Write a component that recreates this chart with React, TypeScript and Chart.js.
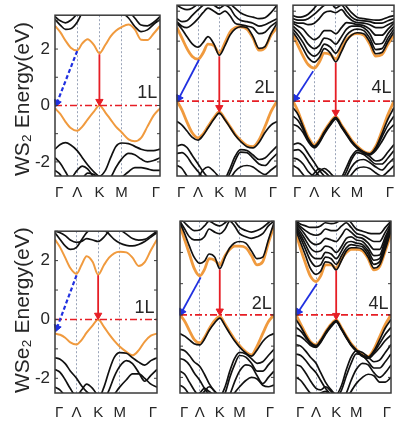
import React, { useEffect, useRef } from "react";
import { Chart, registerables } from "chart.js";

Chart.register(...registerables);
Chart.defaults.font.family = '"Liberation Sans", Arial, sans-serif';

// ---- axes ----
const KPTS = [0, 0.05, 0.1, 0.15, 0.211, 0.26, 0.31, 0.37, 0.423, 0.48, 0.53, 0.58, 0.634, 0.7, 0.76, 0.82, 0.88, 0.94, 1.0];
const XTICKS = [0, 0.211, 0.423, 0.634, 1];
const XLABELS = ["Γ", "Λ", "K", "M", "Γ"];
const YTICKS = [-2, 0, 2];
const ROW_TITLES = ["WS₂ Energy(eV)", "WSe₂ Energy(eV)"];
const LAYER_LABELS = ["1L", "2L", "4L"];
const ROW_YMIN = [-2.5, -2.5];
const ROW_YMAX = [3.2, 3.0];

// ---- WS2 1L ----
const WS2_1L_CB = [2.82, 2.6, 2.3, 2.05, 1.95, 2.2, 2.35, 2.15, 1.85, 2.15, 2.45, 2.65, 2.78, 2.87, 2.7, 2.33, 2.32, 2.55, 2.82];
const WS2_1L_C2 = [3.05, 2.85, 2.7, 2.72, 2.95, 3.3, 3.5, 3.5, 3.5, 3.5, 3.5, 3.4, 3.3, 3.1, 2.8, 2.62, 2.68, 2.88, 3.05];
const WS2_1L_C3 = [3.15, 3.0, 2.93, 3.02, 3.25, 3.5, 3.6, 3.6, 3.6, 3.6, 3.6, 3.6, 3.5, 3.35, 3.1, 2.85, 2.82, 2.95, 3.15];
const WS2_1L_VB = [-0.1, -0.3, -0.58, -0.8, -0.9, -0.75, -0.5, -0.22, 0.0, -0.25, -0.5, -0.75, -0.95, -1.2, -1.27, -1.15, -0.75, -0.35, -0.1];
const WS2_1L_V2 = [-1.55, -1.38, -1.32, -1.4, -1.6, -1.85, -2.1, -2.35, -2.5, -2.3, -1.85, -1.45, -1.33, -1.35, -1.45, -1.55, -1.6, -1.6, -1.55];
const WS2_1L_V3 = [-1.85, -2.05, -2.35, -2.65, -2.75, -2.6, -2.4, -2.45, -2.6, -2.7, -2.55, -2.2, -1.9, -1.7, -1.75, -1.9, -2.0, -1.95, -1.85];
const WS2_1L_V4 = [-2.3, -2.45, -2.7, -2.6, -2.3, -2.15, -2.25, -2.55, -2.8, -2.9, -2.85, -2.7, -2.55, -2.35, -2.2, -2.2, -2.25, -2.3, -2.3];
const WS2_1L_INDIRECT = [[0.211, 1.93], [0.02, 0.1]];
const WS2_1L_DIRECT = [[0.423, 1.82], [0.423, 0.14]];

// ---- WS2 2L ----
const WS2_2L_CB = [2.45, 2.1, 1.75, 1.5, 1.4, 1.6, 1.9, 1.85, 1.6, 1.95, 2.3, 2.45, 2.48, 2.4, 2.1, 1.7, 1.78, 2.2, 2.45];
const WS2_2L_C1B = [2.6, 2.4, 2.15, 1.92, 1.8, 1.95, 2.15, 1.9, 1.53, 1.85, 2.2, 2.4, 2.48, 2.45, 2.15, 1.76, 1.82, 2.25, 2.6];
const WS2_2L_C2 = [2.65, 2.5, 2.45, 2.55, 2.75, 2.95, 3.1, 3.0, 2.9, 3.0, 2.85, 2.6, 2.55, 2.5, 2.45, 2.25, 2.3, 2.5, 2.65];
const WS2_2L_C3 = [2.75, 2.65, 2.68, 2.85, 3.05, 3.2, 3.3, 3.2, 3.1, 3.2, 3.1, 2.85, 2.7, 2.65, 2.6, 2.5, 2.55, 2.65, 2.75];
const WS2_2L_C4 = [3.2, 3.1, 3.05, 3.1, 3.25, 3.4, 3.5, 3.4, 3.3, 3.35, 3.25, 3.1, 2.95, 2.85, 2.8, 2.75, 2.78, 2.95, 3.2];
const WS2_2L_VB = [0, -0.3, -0.7, -1.05, -1.23, -1.1, -0.85, -0.55, -0.36, -0.6, -0.85, -1.1, -1.3, -1.48, -1.52, -1.3, -0.85, -0.35, 0];
const WS2_2L_V2 = [-0.68, -0.8, -1.0, -1.2, -1.3, -1.15, -0.9, -0.6, -0.4, -0.63, -0.88, -1.13, -1.34, -1.52, -1.56, -1.38, -1.05, -0.8, -0.68];
const WS2_2L_V3 = [-1.5, -1.45, -1.55, -1.8, -2.1, -2.35, -2.55, -2.7, -2.75, -2.6, -2.25, -1.85, -1.62, -1.65, -1.8, -1.95, -1.9, -1.7, -1.5];
const WS2_2L_V4 = [-1.75, -1.72, -1.85, -2.1, -2.35, -2.55, -2.7, -2.8, -2.85, -2.7, -2.4, -2.0, -1.7, -1.72, -1.9, -2.1, -2.15, -1.95, -1.75];
const WS2_2L_V5 = [-2.15, -2.25, -2.5, -2.7, -2.55, -2.3, -2.2, -2.35, -2.55, -2.75, -2.6, -2.35, -2.2, -2.15, -2.2, -2.35, -2.45, -2.3, -2.15];
const WS2_2L_INDIRECT = [[0.22, 1.38], [0.02, 0.1]];
const WS2_2L_DIRECT = [[0.423, 1.5], [0.423, -0.22]];

// ---- WS2 4L ----
const WS2_4L_CB = [2.2, 1.85, 1.5, 1.22, 1.1, 1.3, 1.6, 1.55, 1.4, 1.75, 2.05, 2.2, 2.25, 2.2, 1.9, 1.5, 1.55, 1.9, 2.2];
const WS2_4L_C1B = [2.3, 2.05, 1.75, 1.45, 1.3, 1.45, 1.75, 1.6, 1.31, 1.65, 2.0, 2.2, 2.28, 2.25, 1.98, 1.58, 1.62, 1.98, 2.3];
const WS2_4L_C2 = [2.4, 2.2, 1.95, 1.65, 1.5, 1.62, 1.9, 1.8, 1.6, 1.9, 2.2, 2.35, 2.4, 2.35, 2.1, 1.72, 1.75, 2.1, 2.4];
const WS2_4L_C3 = [2.5, 2.35, 2.15, 1.9, 1.75, 1.85, 2.1, 2.05, 1.9, 2.15, 2.4, 2.5, 2.5, 2.45, 2.25, 1.9, 1.92, 2.25, 2.5];
const WS2_4L_C4 = [2.6, 2.5, 2.4, 2.2, 2.05, 2.15, 2.35, 2.35, 2.25, 2.45, 2.62, 2.6, 2.55, 2.52, 2.4, 2.2, 2.2, 2.4, 2.6];
const WS2_4L_C5 = [2.65, 2.6, 2.6, 2.55, 2.6, 2.75, 2.95, 3.0, 2.95, 3.05, 2.85, 2.7, 2.62, 2.6, 2.55, 2.45, 2.45, 2.55, 2.65];
const WS2_4L_C6 = [2.75, 2.7, 2.7, 2.75, 2.9, 3.05, 3.2, 3.3, 3.1, 3.2, 3.0, 2.8, 2.7, 2.68, 2.65, 2.6, 2.6, 2.68, 2.75];
const WS2_4L_C7 = [2.85, 2.8, 2.82, 2.9, 3.1, 3.3, 3.4, 3.5, 3.3, 3.35, 3.15, 2.95, 2.8, 2.75, 2.72, 2.7, 2.72, 2.8, 2.85];
const WS2_4L_VB = [0, -0.35, -0.8, -1.2, -1.47, -1.3, -1.0, -0.7, -0.52, -0.8, -1.05, -1.3, -1.5, -1.68, -1.74, -1.5, -1.0, -0.45, 0];
const WS2_4L_V2 = [-0.22, -0.45, -0.85, -1.25, -1.5, -1.33, -1.03, -0.73, -0.54, -0.82, -1.08, -1.33, -1.53, -1.7, -1.76, -1.55, -1.1, -0.6, -0.22];
const WS2_4L_V3 = [-0.5, -0.65, -0.95, -1.3, -1.53, -1.36, -1.06, -0.76, -0.57, -0.85, -1.1, -1.35, -1.55, -1.72, -1.78, -1.6, -1.2, -0.8, -0.5];
const WS2_4L_V4 = [-0.78, -0.85, -1.05, -1.35, -1.56, -1.4, -1.1, -0.8, -0.6, -0.88, -1.13, -1.38, -1.57, -1.74, -1.8, -1.65, -1.35, -1.0, -0.78];
const WS2_4L_V5 = [-1.45, -1.4, -1.5, -1.75, -2.05, -2.3, -2.5, -2.65, -2.7, -2.55, -2.2, -1.85, -1.65, -1.7, -1.85, -2.0, -1.95, -1.7, -1.45];
const WS2_4L_V6 = [-1.65, -1.62, -1.75, -2.0, -2.3, -2.5, -2.65, -2.75, -2.8, -2.65, -2.35, -1.95, -1.72, -1.78, -1.95, -2.1, -2.1, -1.9, -1.65];
const WS2_4L_V7 = [-1.9, -1.95, -2.1, -2.35, -2.5, -2.35, -2.25, -2.4, -2.6, -2.75, -2.5, -2.2, -2.0, -1.95, -2.05, -2.2, -2.3, -2.1, -1.9];
const WS2_4L_V8 = [-2.15, -2.25, -2.45, -2.6, -2.4, -2.25, -2.35, -2.55, -2.75, -2.85, -2.7, -2.45, -2.25, -2.2, -2.25, -2.4, -2.5, -2.35, -2.15];
const WS2_4L_INDIRECT = [[0.2, 1.0], [0.028, 0.1]];
const WS2_4L_DIRECT = [[0.423, 1.28], [0.423, -0.38]];

// ---- WSe2 1L ----
const WSE2_1L_CB = [2.72, 2.45, 2.1, 1.75, 1.55, 1.85, 2.15, 1.95, 1.52, 1.85, 2.1, 2.25, 2.3, 2.28, 2.1, 1.82, 1.95, 2.35, 2.72];
const WSE2_1L_C2 = [2.95, 2.72, 2.5, 2.38, 2.45, 2.7, 2.95, 3.1, 3.1, 3.05, 2.9, 2.72, 2.6, 2.52, 2.5, 2.55, 2.65, 2.8, 2.95];
const WSE2_1L_C3 = [3.0, 2.95, 2.85, 2.7, 2.62, 2.65, 2.75, 2.7, 2.65, 2.8, 3.0, 3.1, 3.05, 2.9, 2.75, 2.7, 2.72, 2.85, 3.0];
const WSE2_1L_VB = [-0.48, -0.52, -0.62, -0.78, -0.85, -0.7, -0.45, -0.2, 0.0, -0.25, -0.5, -0.72, -0.92, -1.1, -1.22, -1.05, -0.75, -0.55, -0.48];
const WSE2_1L_V2 = [-1.3, -1.35, -1.5, -1.75, -2.0, -2.25, -2.45, -2.6, -2.7, -2.3, -1.75, -1.3, -1.13, -1.15, -1.3, -1.45, -1.55, -1.4, -1.3];
const WSE2_1L_V3 = [-1.7, -1.8, -2.05, -2.35, -2.6, -2.4, -2.2, -2.35, -2.6, -2.7, -2.4, -1.95, -1.6, -1.4, -1.5, -1.8, -2.1, -1.9, -1.7];
const WSE2_1L_V4 = [-2.3, -2.4, -2.6, -2.7, -2.6, -2.5, -2.6, -2.75, -2.8, -2.85, -2.75, -2.55, -2.3, -2.05, -1.85, -1.85, -2.0, -2.2, -2.3];
const WSE2_1L_INDIRECT = [[0.211, 1.5], [0.02, -0.28]];
const WSE2_1L_DIRECT = [[0.423, 1.5], [0.423, 0.14]];

// ---- WSe2 2L ----
const WSE2_2L_CB = [2.85, 2.4, 1.95, 1.5, 1.25, 1.45, 1.8, 1.75, 1.6, 1.9, 2.1, 2.2, 2.2, 2.15, 1.9, 1.6, 1.7, 2.3, 2.85];
const WSE2_2L_C1B = [2.95, 2.6, 2.2, 1.85, 1.65, 1.72, 1.95, 1.85, 1.48, 1.85, 2.15, 2.3, 2.35, 2.3, 2.05, 1.8, 1.85, 2.4, 2.95];
const WSE2_2L_C2 = [3.0, 2.75, 2.5, 2.4, 2.4, 2.5, 2.75, 2.65, 2.6, 2.75, 3.0, 2.85, 2.6, 2.5, 2.45, 2.5, 2.6, 2.85, 3.0];
const WSE2_2L_C3 = [3.1, 2.95, 2.8, 2.7, 2.72, 2.85, 3.0, 2.9, 2.85, 2.95, 3.1, 3.0, 2.8, 2.7, 2.65, 2.7, 2.8, 2.95, 3.1];
const WSE2_2L_VB = [0, -0.2, -0.5, -0.78, -0.9, -0.72, -0.45, -0.18, -0.05, -0.3, -0.55, -0.78, -0.98, -1.18, -1.28, -1.0, -0.6, -0.22, 0];
const WSE2_2L_V2 = [-0.6, -0.68, -0.8, -0.92, -0.96, -0.78, -0.5, -0.25, -0.1, -0.35, -0.6, -0.83, -1.03, -1.22, -1.32, -1.12, -0.85, -0.68, -0.6];
const WSE2_2L_V3 = [-1.1, -1.15, -1.3, -1.5, -1.65, -1.9, -2.2, -2.45, -2.6, -2.3, -1.8, -1.4, -1.2, -1.25, -1.4, -1.55, -1.5, -1.3, -1.1];
const WSE2_2L_V4 = [-1.4, -1.45, -1.6, -1.85, -2.1, -2.35, -2.55, -2.7, -2.75, -2.5, -2.0, -1.6, -1.3, -1.35, -1.55, -1.8, -1.8, -1.6, -1.4];
const WSE2_2L_V5 = [-1.8, -1.9, -2.15, -2.4, -2.6, -2.45, -2.3, -2.45, -2.65, -2.75, -2.55, -2.15, -1.8, -1.6, -1.65, -1.95, -2.2, -2.0, -1.8];
const WSE2_2L_V6 = [-2.25, -2.35, -2.55, -2.65, -2.5, -2.35, -2.45, -2.6, -2.8, -2.85, -2.75, -2.5, -2.3, -2.1, -2.0, -2.05, -2.25, -2.3, -2.25];
const WSE2_2L_INDIRECT = [[0.22, 1.2], [0.02, 0.1]];
const WSE2_2L_DIRECT = [[0.423, 1.45], [0.423, 0.12]];

// ---- WSe2 4L ----
const WSE2_4L_CB = [2.6, 2.1, 1.65, 1.25, 1.07, 1.25, 1.6, 1.6, 1.5, 1.8, 2.0, 2.1, 2.1, 2.05, 1.8, 1.44, 1.55, 2.05, 2.6];
const WSE2_4L_C1B = [2.7, 2.3, 1.9, 1.5, 1.3, 1.4, 1.7, 1.65, 1.44, 1.75, 2.05, 2.15, 2.15, 2.1, 1.85, 1.5, 1.6, 2.1, 2.7];
const WSE2_4L_C2 = [2.75, 2.45, 2.1, 1.75, 1.55, 1.6, 1.85, 1.8, 1.62, 1.9, 2.15, 2.25, 2.22, 2.18, 1.95, 1.62, 1.7, 2.2, 2.75];
const WSE2_4L_C3 = [2.8, 2.55, 2.25, 1.95, 1.8, 1.8, 2.0, 1.95, 1.8, 2.05, 2.3, 2.35, 2.3, 2.25, 2.05, 1.75, 1.8, 2.3, 2.8];
const WSE2_4L_C4 = [2.85, 2.65, 2.4, 2.15, 2.02, 2.05, 2.2, 2.15, 2.0, 2.2, 2.45, 2.5, 2.4, 2.35, 2.15, 1.9, 1.92, 2.4, 2.85];
const WSE2_4L_C5 = [2.9, 2.75, 2.55, 2.35, 2.25, 2.3, 2.45, 2.4, 2.35, 2.55, 2.75, 2.65, 2.5, 2.45, 2.3, 2.1, 2.1, 2.5, 2.9];
const WSE2_4L_C6 = [2.95, 2.82, 2.7, 2.6, 2.55, 2.6, 2.75, 2.7, 2.7, 2.85, 2.95, 2.8, 2.62, 2.55, 2.45, 2.35, 2.35, 2.65, 2.95];
const WSE2_4L_C7 = [3.0, 2.9, 2.85, 2.8, 2.8, 2.85, 2.95, 2.92, 2.95, 3.05, 3.1, 2.95, 2.75, 2.68, 2.62, 2.6, 2.6, 2.8, 3.0];
const WSE2_4L_VB = [0, -0.3, -0.6, -0.85, -0.96, -0.8, -0.55, -0.3, -0.16, -0.42, -0.68, -0.92, -1.1, -1.27, -1.33, -1.1, -0.7, -0.3, 0];
const WSE2_4L_V2 = [-0.15, -0.38, -0.65, -0.88, -0.98, -0.82, -0.57, -0.32, -0.18, -0.44, -0.7, -0.94, -1.12, -1.29, -1.35, -1.15, -0.8, -0.42, -0.15];
const WSE2_4L_V3 = [-0.4, -0.52, -0.72, -0.92, -1.01, -0.85, -0.6, -0.35, -0.2, -0.46, -0.72, -0.96, -1.14, -1.31, -1.37, -1.2, -0.92, -0.62, -0.4];
const WSE2_4L_V4 = [-0.65, -0.7, -0.82, -0.97, -1.04, -0.88, -0.63, -0.38, -0.22, -0.48, -0.74, -0.98, -1.16, -1.33, -1.39, -1.25, -1.05, -0.82, -0.65];
const WSE2_4L_V5 = [-0.95, -1.0, -1.15, -1.35, -1.55, -1.85, -2.15, -2.4, -2.55, -2.25, -1.75, -1.35, -1.15, -1.2, -1.35, -1.5, -1.45, -1.2, -0.95];
const WSE2_4L_V6 = [-1.25, -1.3, -1.45, -1.65, -1.85, -2.1, -2.35, -2.55, -2.65, -2.4, -1.95, -1.55, -1.25, -1.3, -1.5, -1.7, -1.7, -1.5, -1.25];
const WSE2_4L_V7 = [-1.6, -1.65, -1.85, -2.1, -2.35, -2.4, -2.3, -2.45, -2.65, -2.75, -2.5, -2.1, -1.75, -1.55, -1.6, -1.85, -2.0, -1.85, -1.6];
const WSE2_4L_V8 = [-2.0, -2.1, -2.3, -2.5, -2.6, -2.5, -2.45, -2.6, -2.8, -2.85, -2.7, -2.45, -2.2, -2.0, -1.9, -1.95, -2.15, -2.15, -2.0];
const WSE2_4L_INDIRECT = [[0.22, 1.0], [0.025, 0.1]];
const WSE2_4L_DIRECT = [[0.423, 1.42], [0.423, -0.02]];

const PANELS = [
  { row: 0, col: 0, orange: [WS2_1L_CB, WS2_1L_VB], black: [WS2_1L_C2, WS2_1L_C3, WS2_1L_V2, WS2_1L_V3, WS2_1L_V4], indirect: WS2_1L_INDIRECT, direct: WS2_1L_DIRECT, dashed: true },
  { row: 0, col: 1, orange: [WS2_2L_CB, WS2_2L_VB], black: [WS2_2L_C1B, WS2_2L_C2, WS2_2L_C3, WS2_2L_C4, WS2_2L_V2, WS2_2L_V3, WS2_2L_V4, WS2_2L_V5], indirect: WS2_2L_INDIRECT, direct: WS2_2L_DIRECT, dashed: false },
  { row: 0, col: 2, orange: [WS2_4L_CB, WS2_4L_VB], black: [WS2_4L_C1B, WS2_4L_C2, WS2_4L_C3, WS2_4L_C4, WS2_4L_C5, WS2_4L_C6, WS2_4L_C7, WS2_4L_V2, WS2_4L_V3, WS2_4L_V4, WS2_4L_V5, WS2_4L_V6, WS2_4L_V7, WS2_4L_V8], indirect: WS2_4L_INDIRECT, direct: WS2_4L_DIRECT, dashed: false },
  { row: 1, col: 0, orange: [WSE2_1L_CB, WSE2_1L_VB], black: [WSE2_1L_C2, WSE2_1L_C3, WSE2_1L_V2, WSE2_1L_V3, WSE2_1L_V4], indirect: WSE2_1L_INDIRECT, direct: WSE2_1L_DIRECT, dashed: true },
  { row: 1, col: 1, orange: [WSE2_2L_CB, WSE2_2L_VB], black: [WSE2_2L_C1B, WSE2_2L_C2, WSE2_2L_C3, WSE2_2L_V2, WSE2_2L_V3, WSE2_2L_V4, WSE2_2L_V5, WSE2_2L_V6], indirect: WSE2_2L_INDIRECT, direct: WSE2_2L_DIRECT, dashed: false },
  { row: 1, col: 2, orange: [WSE2_4L_CB, WSE2_4L_VB], black: [WSE2_4L_C1B, WSE2_4L_C2, WSE2_4L_C3, WSE2_4L_C4, WSE2_4L_C5, WSE2_4L_C6, WSE2_4L_C7, WSE2_4L_V2, WSE2_4L_V3, WSE2_4L_V4, WSE2_4L_V5, WSE2_4L_V6, WSE2_4L_V7, WSE2_4L_V8], indirect: WSE2_4L_INDIRECT, direct: WSE2_4L_DIRECT, dashed: false },
];

// ---- layout / style ----
const COL_BOX = [
  { left: 0, width: 168, padL: 0, padR: 1 },
  { left: 169, width: 116, padL: 2, padR: 1 },
  { left: 285, width: 117, padL: 2, padR: 2 },
];
const ROW_BOX = [
  { top: 0, height: 200, axisH: 24, tickPad: 8, labelY: 0.12 },
  { top: 216, height: 207, axisH: 30, tickPad: 11, labelY: 0.07 },
];
const BLACK = "#111111";
const ORANGE = "#f09a3e";
const RED = "#e61e25";
const BLUE = "#2030e0";
const TEXT = "#262626";

const framePlugin = {
  id: "frame",
  afterDatasetsDraw(chart: any, _a: any, opts: any) {
    const { ctx, chartArea: a, scales } = chart;
    const ys = scales.y;
    ctx.save();
    ctx.strokeStyle = "#3a3a3a";
    ctx.lineWidth = 1.5;
    ctx.strokeRect(a.left, a.top, a.right - a.left, a.bottom - a.top);
    ctx.lineWidth = 1;
    for (let v = Math.ceil(ys.min); v <= ys.max; v++) {
      const y = ys.getPixelForValue(v);
      ctx.beginPath();
      ctx.moveTo(a.left, y);
      ctx.lineTo(a.left + 3, y);
      ctx.moveTo(a.right, y);
      ctx.lineTo(a.right - 3, y);
      ctx.stroke();
    }
    ctx.font = '18px "Liberation Sans", Arial, sans-serif';
    ctx.fillStyle = TEXT;
    ctx.textAlign = "right";
    ctx.textBaseline = "bottom";
    ctx.fillText(opts.text, scales.x.getPixelForValue(0.975), ys.getPixelForValue(opts.y));
    ctx.restore();
  },
};

function bandDataset(vals: number[], color: string, width: number) {
  return {
    data: KPTS.map((k, i) => ({ x: k, y: vals[i] })),
    borderColor: color,
    backgroundColor: color,
    borderWidth: width,
    pointRadius: 0,
    pointHoverRadius: 0,
    cubicInterpolationMode: "monotone",
    fill: false,
  };
}

function arrowDataset(pts: number[][], color: string, dashed: boolean) {
  return {
    data: pts.map((p) => ({ x: p[0], y: p[1] })),
    borderColor: color,
    backgroundColor: color,
    borderWidth: dashed ? 2.2 : 1.8,
    borderDash: dashed ? [4, 2.5] : [],
    pointRadius: [0, 4.2],
    pointHoverRadius: 0,
    pointStyle: "triangle",
    pointBackgroundColor: color,
    pointBorderColor: color,
    pointBorderWidth: 1,
    pointRotation: (c: any) => {
      const ch = c.chart;
      const d = c.dataset.data;
      const dx = ch.scales.x.getPixelForValue(d[1].x) - ch.scales.x.getPixelForValue(d[0].x);
      const dy = ch.scales.y.getPixelForValue(d[1].y) - ch.scales.y.getPixelForValue(d[0].y);
      return (Math.atan2(dx, -dy) * 180) / Math.PI;
    },
    tension: 0,
    clip: 10,
    fill: false,
  };
}

function zeroDataset() {
  return {
    data: [{ x: 0, y: 0 }, { x: 1, y: 0 }],
    borderColor: RED,
    borderWidth: 1.6,
    borderDash: [7, 3, 2, 3],
    pointRadius: 0,
    pointHoverRadius: 0,
    tension: 0,
    fill: false,
  };
}

function makeConfig(p: any) {
  const rb = ROW_BOX[p.row];
  const cb = COL_BOX[p.col];
  const showY = p.col === 0;
  const datasets: any[] = [
    arrowDataset(p.direct, RED, false),
    arrowDataset(p.indirect, BLUE, p.dashed),
    zeroDataset(),
    ...p.black.map((b: number[]) => bandDataset(b, BLACK, 1.7)),
    ...p.orange.map((b: number[]) => bandDataset(b, ORANGE, p.col === 0 ? 2 : 2.8)),
  ];
  return {
    type: "line",
    data: { datasets },
    plugins: [framePlugin],
    options: {
      responsive: false,
      animation: false,
      events: [],
      layout: { padding: { left: cb.padL, right: cb.padR, top: 5, bottom: 0 } },
      plugins: {
        legend: { display: false },
        tooltip: { enabled: false },
        frame: { text: LAYER_LABELS[p.col], y: rb.labelY },
      },
      scales: {
        x: {
          type: "linear",
          min: 0,
          max: 1,
          afterBuildTicks: (s: any) => {
            s.ticks = XTICKS.map((v) => ({ value: v }));
          },
          afterFit: (s: any) => {
            s.height = rb.axisH;
          },
          ticks: {
            autoSkip: false,
            maxRotation: 0,
            align: "inner",
            padding: rb.tickPad,
            color: TEXT,
            font: { size: 15 },
            callback: (_v: any, i: number) => XLABELS[i],
          },
          grid: {
            drawTicks: false,
            lineWidth: 1,
            color: (c: any) => (c.index > 0 && c.index < XTICKS.length - 1 ? "#9aa4b8" : "rgba(0,0,0,0)"),
          },
          border: { display: false, dash: [2, 2] },
        },
        y: {
          type: "linear",
          display: showY,
          min: ROW_YMIN[p.row],
          max: ROW_YMAX[p.row],
          afterBuildTicks: (s: any) => {
            s.ticks = YTICKS.map((v) => ({ value: v }));
          },
          afterFit: (s: any) => {
            s.width = showY ? 55 : 0;
          },
          ticks: { color: TEXT, padding: 5, font: { size: 17 }, callback: (v: any) => String(v) },
          grid: { display: false, drawTicks: false },
          border: { display: false },
          title: {
            display: true,
            text: ROW_TITLES[p.row],
            color: TEXT,
            align: "start",
            font: { size: 21 },
            padding: { top: 11, bottom: 0 },
          },
        },
      },
    },
  };
}

export default function App() {
  const refs = useRef<(HTMLCanvasElement | null)[]>([]);
  useEffect(() => {
    const charts = PANELS.map((p, i) => new Chart(refs.current[i] as HTMLCanvasElement, makeConfig(p) as any));
    return () => charts.forEach((c) => c.destroy());
  }, []);
  return (
    <div style={{ position: "absolute", left: 0, top: 0, width: 396, height: 423, overflow: "hidden", background: "#fff" }}>
      {PANELS.map((p, i) => {
        const rb = ROW_BOX[p.row];
        const cb = COL_BOX[p.col];
        return (
          <canvas
            key={i}
            ref={(el) => {
              refs.current[i] = el;
            }}
            width={cb.width}
            height={rb.height}
            style={{ position: "absolute", left: cb.left, top: rb.top, width: cb.width, height: rb.height, display: "block" }}
          />
        );
      })}
    </div>
  );
}
